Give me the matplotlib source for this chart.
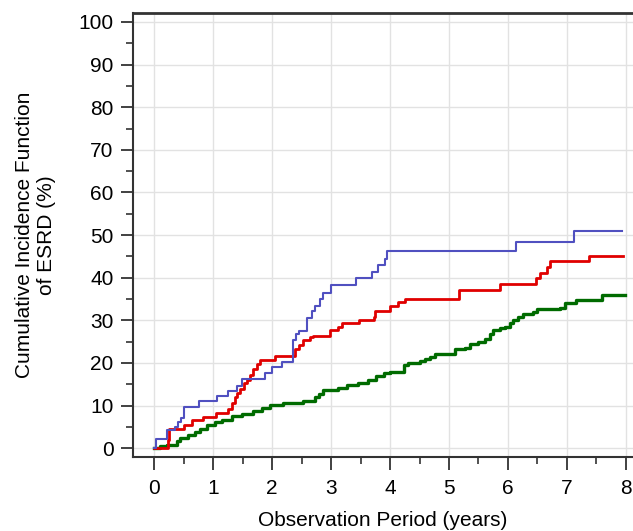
import numpy as np
import matplotlib
matplotlib.use("Agg")
from matplotlib import pyplot as plt
from matplotlib.ticker import MultipleLocator

plt.rcParams['font.family'] = ['Liberation Sans', 'DejaVu Sans']

# blue group
blue_t = [0, 0.03, 0.21, 0.36, 0.41, 0.45, 0.5, 0.76, 1.06, 1.25, 1.41, 1.49, 1.88, 1.99, 2.16,
          2.36, 2.41, 2.46, 2.59, 2.67, 2.73, 2.81, 2.86, 3.0, 3.43, 3.69, 3.80, 3.91, 3.94,
          6.14, 7.12, 7.94]
blue_y = [0, 2.2, 4.2, 4.9, 6.2, 7.2, 9.6, 11.0, 12.2, 13.5, 14.5, 16.2, 17.6, 19.0, 20.3,
          25.4, 26.8, 27.5, 30.5, 32.2, 33.3, 35.0, 36.4, 38.3, 39.9, 41.4, 43.0, 44.5, 46.3,
          48.3, 50.9, 50.9]

# red group
red_t = [0, 0.23, 0.26, 0.5, 0.64, 0.83, 1.05, 1.26, 1.32, 1.37, 1.41, 1.46, 1.53, 1.57, 1.63,
         1.68, 1.74, 1.8, 2.05, 2.39, 2.46, 2.53, 2.64, 2.7, 2.98, 3.12, 3.18, 3.48, 3.72, 3.75,
         4.0, 4.14, 4.25, 5.17, 5.86, 6.47, 6.54, 6.67, 6.72, 7.38, 7.95]
red_y = [0, 2.0, 4.5, 5.4, 6.6, 7.4, 8.3, 9.3, 10.5, 12.0, 13.0, 14.0, 15.2, 16.1, 17.1,
         18.5, 19.7, 20.7, 21.6, 23.2, 24.2, 25.4, 26.0, 26.3, 27.7, 28.5, 29.3, 30.2, 30.8, 32.2,
         33.3, 34.3, 35.1, 37.2, 38.5, 40.0, 41.1, 42.4, 44.0, 45.1, 45.1]

# green group
green_t = [0, 0.1, 0.21, 0.38, 0.44, 0.58, 0.69, 0.78, 0.89, 1.03, 1.15, 1.32, 1.49, 1.68, 1.83,
           1.97, 2.19, 2.53, 2.73, 2.8, 2.87, 3.12, 3.27, 3.46, 3.63, 3.77, 3.89, 4.0, 4.23, 4.31,
           4.51, 4.59, 4.68, 4.76, 5.1, 5.27, 5.36, 5.5, 5.61, 5.69, 5.75, 5.86, 5.95, 6.03, 6.09,
           6.17, 6.26, 6.43, 6.49, 6.88, 6.97, 7.15, 7.6, 7.98]
green_y = [0, 0.5, 0.7, 1.6, 2.3, 3.0, 3.8, 4.6, 5.4, 6.2, 6.7, 7.5, 8.1, 8.7, 9.5,
           10.1, 10.5, 11.1, 12.0, 12.8, 13.6, 14.2, 14.8, 15.3, 16.1, 16.9, 17.7, 17.9, 19.6, 20.0,
           20.5, 21.0, 21.3, 22.0, 23.2, 23.6, 24.4, 25.0, 25.7, 26.9, 27.7, 28.3, 28.5, 29.3, 30.0,
           30.8, 31.4, 31.9, 32.6, 33.0, 34.1, 34.7, 35.9, 35.9]

fig = plt.figure(figsize=(6.33, 5.31), dpi=100)
ax = fig.add_axes([0.210, 0.139, 0.79, 0.8365])

ax.step(green_t, green_y, where='post', color='#006b00', lw=2.4, zorder=3)
ax.step(red_t, red_y, where='post', color='#e00000', lw=2.0, zorder=4)
ax.step(blue_t, blue_y, where='post', color='#5050c0', lw=1.5, zorder=5)

ax.set_xlim(-0.36, 8.12)
ax.set_ylim(-2.1, 102.1)
ax.xaxis.set_major_locator(MultipleLocator(1))
ax.xaxis.set_minor_locator(MultipleLocator(0.5))
ax.yaxis.set_major_locator(MultipleLocator(10))
ax.yaxis.set_minor_locator(MultipleLocator(5))
ax.grid(True, which='major', color='#e2e2e2', lw=1.0)
ax.set_axisbelow(True)

ax.spines['right'].set_visible(False)
ax.spines['top'].set_color('#333333')
ax.spines['top'].set_linewidth(2.0)
ax.spines['left'].set_color('#333333')
ax.spines['left'].set_linewidth(1.5)
ax.spines['bottom'].set_color('#333333')
ax.spines['bottom'].set_linewidth(1.5)

ax.tick_params(which='major', length=9, width=1.3, color='#333333', labelsize=15, pad=5)
ax.tick_params(which='minor', length=5, width=1.2, color='#333333')
ax.tick_params(axis='x', pad=7)

ax.set_xlabel('Observation Period (years)', fontsize=15, labelpad=9)
ax.set_ylabel('Cumulative Incidence Function\nof ESRD (%)', fontsize=15, labelpad=16)

fig.savefig('out.png', dpi=100)
